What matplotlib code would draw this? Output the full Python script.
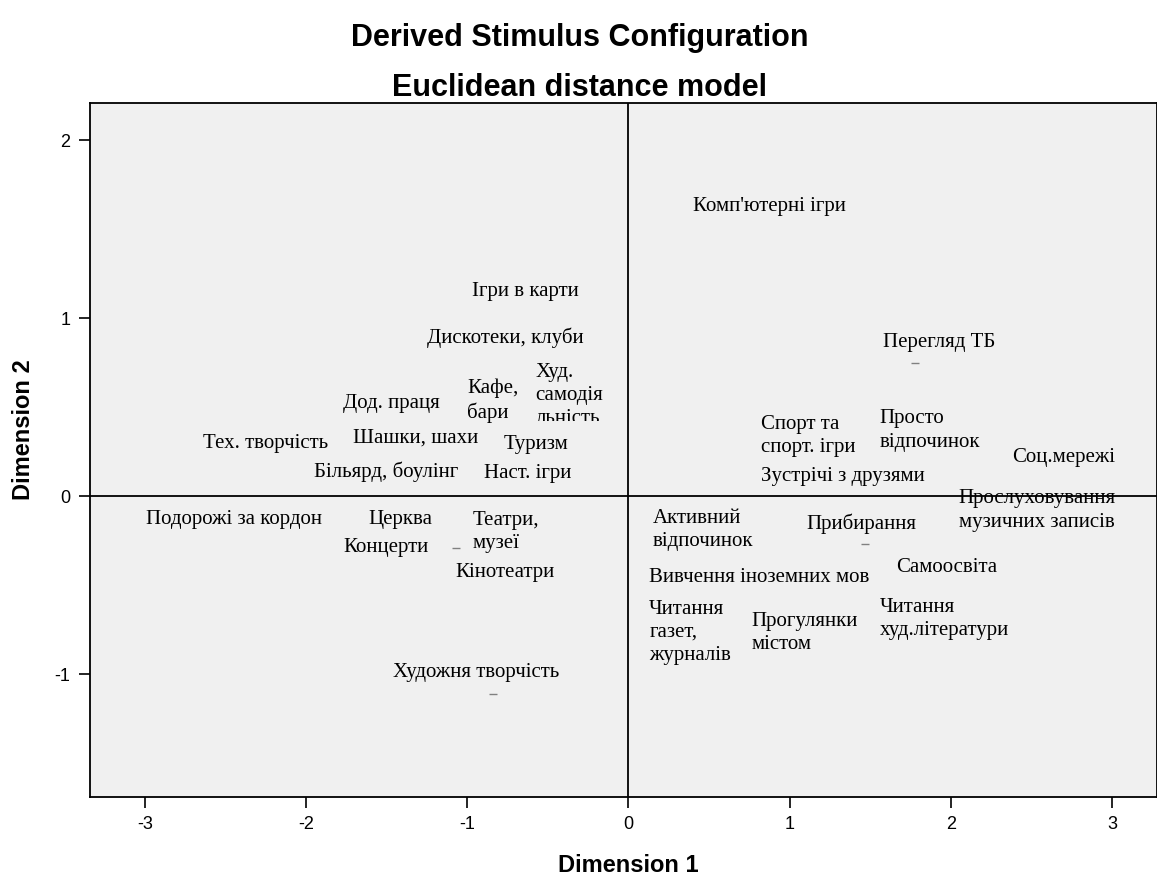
import matplotlib
matplotlib.use("Agg")
import matplotlib.pyplot as plt
from matplotlib.transforms import Bbox, TransformedBbox

plt.rcParams["font.family"] = "Liberation Sans"
plt.rcParams["axes.unicode_minus"] = False

# labels of the stimuli and where their text sits (Dimension 1, Dimension 2)
labels = ["Комп'ютерні ігри", "Ігри в карти", "Дискотеки, клуби", "Худ.\nсамодія\nльність",
          "Кафе,\nбари", "Дод. праця", "Тех. творчість", "Шашки, шахи", "Туризм",
          "Більярд, боулінг", "Наст. ігри", "Подорожі за кордон", "Церква", "Театри,\nмузеї",
          "Концерти", "Кінотеатри", "Художня творчість", "Перегляд ТБ", "Спорт та\nспорт. ігри",
          "Просто\nвідпочинок", "Соц.мережі", "Зустрічі з друзями",
          "Прослуховування\nмузичних записів", "Активний\nвідпочинок", "Прибирання",
          "Самоосвіта", "Вивчення іноземних мов", "Читання\nгазет,\nжурналів",
          "Прогулянки\nмістом", "Читання\nхуд.літератури"]
dim1 = [0.40, -0.97, -1.25, -0.577, -1.00, -1.77, -2.64, -1.71, -0.776, -1.95, -0.894, -2.99,
        -1.61, -0.965, -1.77, -1.07, -1.46, 1.58, 0.82, 1.56, 2.38, 0.82, 2.05, 0.15, 1.105,
        1.66, 0.13, 0.13, 0.765, 1.56]
dim2 = [1.63, 1.15, 0.89, 0.567, 0.539, 0.52, 0.298, 0.326, 0.292, 0.135, 0.129, -0.13, -0.13,
        -0.20, -0.29, -0.43, -0.99, 0.865, 0.34, 0.37, 0.22, 0.11, -0.08, -0.19, -0.152,
        -0.40, -0.455, -0.765, -0.77, -0.69]

# stimulus points that still show from under the labels
pt_x = [1.78, -0.84, 1.47, -1.07]
pt_y = [0.75, -1.11, -0.27, -0.29]

fig = plt.figure(figsize=(11.57, 8.77), dpi=100)
ax = fig.add_axes([90 / 1157, 1 - 797 / 877, 1 - 90 / 1157, (797 - 103) / 877])
ax.set_facecolor("#f0f0f0")
ax.set_xlim(-3.34, 3.28)
ax.set_ylim(-1.69, 2.21)

ax.axhline(0, color="black", lw=1.3)
ax.axvline(0, color="black", lw=1.3)
ax.plot(pt_x, pt_y, "_", color="gray", ms=6)

for lab, x, y in zip(labels, dim1, dim2):
    t = ax.text(x, y, lab, ha="left", va="center", family="Liberation Serif",
                fontsize=15, linespacing=1.3)
    if lab.startswith("Худ."):
        # bottom of this label is cut off in the original
        t.set_clip_box(TransformedBbox(Bbox([[-1, 0.425], [1, 2]]), ax.transData))
        t.set_clip_on(True)

ax.set_xticks([-3, -2, -1, 0, 1, 2, 3])
ax.set_yticks([-1, 0, 1, 2])
ax.tick_params(labelsize=13, length=8, width=1.2, pad=6)
for s in ax.spines.values():
    s.set_linewidth(1.3)

ax.set_xlabel("Dimension 1", fontsize=17, fontweight="bold", va="center")
ax.set_ylabel("Dimension 2", fontsize=17, fontweight="bold", va="center")
ax.xaxis.set_label_coords(538 / 1067, -(865 - 797) / 694)
ax.yaxis.set_label_coords(-(90 - 24) / 1067, (797 - 430) / 694)
fig.text(580 / 1157, 1 - 38 / 877, "Derived Stimulus Configuration", ha="center",
         va="center", fontsize=22, fontweight="bold")
fig.text(580 / 1157, 1 - 88 / 877, "Euclidean distance model", ha="center",
         va="center", fontsize=22, fontweight="bold")

fig.savefig("out.png", dpi=100)
